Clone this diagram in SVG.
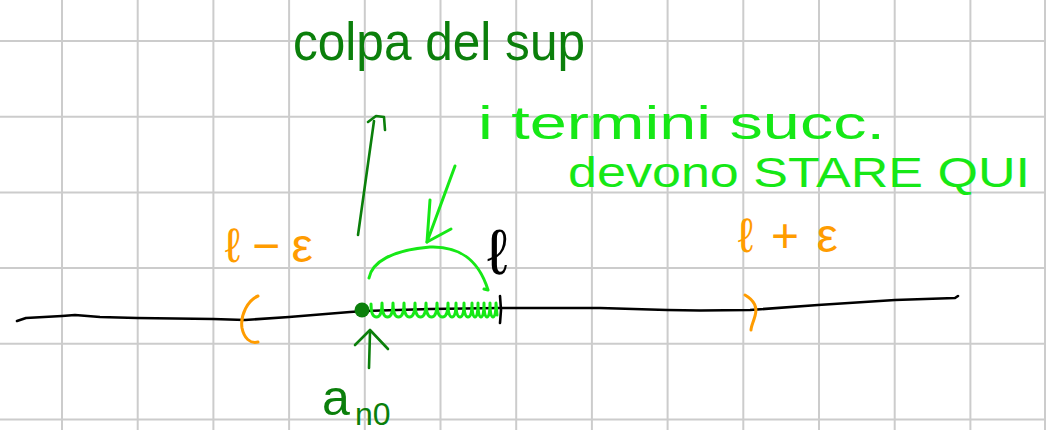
<svg xmlns="http://www.w3.org/2000/svg" width="1046" height="430" viewBox="0 0 1046 430">
  <defs>
    <style>
      .grid line { stroke: #cccccc; stroke-width: 2; }
      .ink { fill: none; stroke-linecap: round; stroke-linejoin: round; }
      .dk { stroke: #0b7f0b; stroke-width: 2.6; }
      .br { stroke: #16e816; stroke-width: 3; }
      .or { stroke: #ff9c00; stroke-width: 3; }
      .bk { stroke: #000000; stroke-width: 2.6; }
      .t { font-family: "Liberation Sans", "DejaVu Sans", sans-serif; }
      .tdk { fill: #0b7f0b; }
      .tbr { fill: #16e816; }
      .tor { fill: #ff9c00; }
      .tbk { fill: #000000; }
    </style>
  </defs>
  <rect x="0" y="0" width="1046" height="430" fill="#ffffff"/>

  <g id="grid" class="grid">
    <line x1="62" y1="0" x2="62" y2="430"/>
    <line x1="137.7" y1="0" x2="137.7" y2="430"/>
    <line x1="213.4" y1="0" x2="213.4" y2="430"/>
    <line x1="289.1" y1="0" x2="289.1" y2="430"/>
    <line x1="364.8" y1="0" x2="364.8" y2="430"/>
    <line x1="440.5" y1="0" x2="440.5" y2="430"/>
    <line x1="516.2" y1="0" x2="516.2" y2="430"/>
    <line x1="591.9" y1="0" x2="591.9" y2="430"/>
    <line x1="667.6" y1="0" x2="667.6" y2="430"/>
    <line x1="743.3" y1="0" x2="743.3" y2="430"/>
    <line x1="819" y1="0" x2="819" y2="430"/>
    <line x1="894.7" y1="0" x2="894.7" y2="430"/>
    <line x1="970.4" y1="0" x2="970.4" y2="430"/>
    <line x1="1045" y1="0" x2="1045" y2="430"/>
    <line x1="0" y1="41" x2="1046" y2="41"/>
    <line x1="0" y1="116.7" x2="1046" y2="116.7"/>
    <line x1="0" y1="192.4" x2="1046" y2="192.4"/>
    <line x1="0" y1="268.1" x2="1046" y2="268.1"/>
    <line x1="0" y1="343.8" x2="1046" y2="343.8"/>
    <line x1="0" y1="419.5" x2="1046" y2="419.5"/>
  </g>

  <g id="connectors">
    <!-- number line -->
    <path class="ink bk" d="M17,321 L26,318 L62,316 L75,315 L100,317 L137,318 L213,319 L245,320 L289,317 L350,312 L365,311 L430,309 L500,308 L600,308 L667,310 L700,310.5 L750,310 L818,305 L895,300 L955,298 L958,296"/>
    <path class="ink bk" d="M500,296 L501,310 L500,323"/>
    <!-- orange brackets -->
    <path class="ink or" d="M258,296 C248,300 240,315 242,328 C244,338 250,344 258,342"/>
    <path class="ink or" d="M745,295 C752,299 758,306 755,316 C753,323 751,327 751,330"/>
    <!-- hatching of terms -->
    <path class="ink br" stroke-width="2.8" d="M371,304 q0,13 5.5,13 q5.5,0 5.5,-14 q0,14 5.5,14 q5.5,0 5.5,-14 q0,14 5.5,14 q5.5,0 5.5,-14 q0,14 5.5,14 q5.5,0 5.5,-14 q0,14 5.5,14 q5.5,0 5.5,-14 q0,14 5.5,14 q5.5,0 5.5,-14 q0,14 5.5,14 q5.5,0 5.5,-14 q0,14 4,14 q4,0 4,-14 q0,14 4,14 q4,0 4,-14 q0,14 4,14 q4,0 4,-14 q0,14 3,14 q3,0 3,-14 q0,14 3,14 q3,0 3,-14 q0,14 3,14 q3,0 3,-14 q0,14 3,14 q3,0 3,-14 l1,12"/>
    <!-- brace arc -->
    <path class="ink br" d="M369,278 C372,262 392,250 430,247 C458,246 478,258 488,290 L484,289"/>
    <!-- bright green arrow -->
    <path class="ink br" d="M455,166 L427,242"/>
    <path class="ink br" d="M430,200 L427,242 L451,229"/>
    <!-- dark green arrow to colpa del sup -->
    <path class="ink dk" d="M358,235 L374,121"/>
    <path class="ink dk" d="M368,122 L376,116 L384,117 L385,130"/>
    <!-- dark green arrow to a_n0 -->
    <path class="ink dk" d="M369,368 L370,332"/>
    <path class="ink dk" d="M355,345 L370,330 L388,349"/>
  </g>

  <g id="point-an0">
    <circle cx="362" cy="310" r="7.5" fill="#0b7f0b"/>
  </g>

  <g id="label-colpa">
    <text class="t tdk" x="293" y="60" font-size="54" textLength="292" lengthAdjust="spacingAndGlyphs">colpa del sup</text>
  </g>
  <g id="label-termini">
    <text class="t tbr" x="478" y="139" font-size="46" textLength="407" lengthAdjust="spacingAndGlyphs">i termini succ.</text>
    <text class="t tbr" x="568" y="187" font-size="42" textLength="462" lengthAdjust="spacingAndGlyphs">devono STARE QUI</text>
  </g>
  <g id="label-l-minus-eps">
    <text class="t tor" x="225" y="262" font-size="48" textLength="88" lengthAdjust="spacing">ℓ−ε</text>
  </g>
  <g id="label-l-plus-eps">
    <text class="t tor" x="738" y="252" font-size="48" textLength="100" lengthAdjust="spacing">ℓ+ε</text>
  </g>
  <g id="label-l">
    <text class="t tbk" x="487" y="274" font-size="64">ℓ</text>
  </g>
  <g id="label-an0">
    <text class="t tdk" x="322" y="415" font-size="50">a<tspan x="355" y="425" font-size="32">n0</tspan></text>
  </g>
</svg>
